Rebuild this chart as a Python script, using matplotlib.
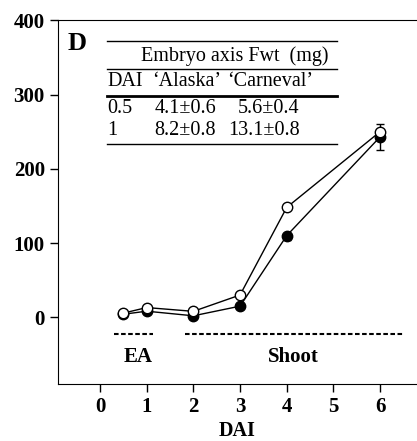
import matplotlib.pyplot as plt

plt.rcParams['font.family'] = ['Liberation Serif', 'DejaVu Serif']

# Data.
dai = [0.5, 1, 2, 3, 4, 6]
alaska = [4.1, 8.2, 2, 15, 110, 243]
alaska_err = [0.6, 0.8, 1, 2, 6, 18]
carneval = [5.6, 13.1, 8, 30, 148, 250]
carneval_err = [0.4, 0.8, 1, 2, 3, 10]

table_rows = [['0.5', '4.1±0.6', '5.6±0.4'],
              ['1', '8.2±0.8', '13.1±0.8']]

fig = plt.figure(figsize=(4.17, 4.41), dpi=100)
ax = fig.add_axes([0.139, 0.129, 0.861, 0.825])

# Error bars only drawn on one side, like the original.
ax.errorbar(dai, alaska, yerr=[alaska_err, [0] * len(dai)], fmt='-o', color='black',
            mfc='black', mec='black', ms=7.5, lw=1, capsize=3, elinewidth=1, zorder=3)
ax.errorbar(dai, carneval, yerr=[[0] * len(dai), carneval_err], fmt='-o', color='black',
            mfc='white', mec='black', ms=7.5, lw=1, capsize=3, elinewidth=1, zorder=4)

# Stage bars.
ax.plot([0.3, 1.14], [-23, -23], ls=(0, (2.2, 1.2)), color='black', lw=1.5)
ax.plot([1.82, 6.5], [-23, -23], ls=(0, (2.2, 1.2)), color='black', lw=1.5)
ax.text(0.81, -53, 'EA', ha='center', va='center', fontsize=15, fontweight='bold')
ax.text(4.14, -53, 'Shoot', ha='center', va='center', fontsize=15, fontweight='bold')

ax.text(-0.49, 369, 'D', ha='center', va='center', fontsize=19, fontweight='bold')

# Inset table.
fs = 14.5
x0, x1 = 0.15, 5.07
for y, w in [(372, 1), (334, 1), (298, 2), (233, 1)]:
    ax.plot([x0, x1], [y, y], color='black', lw=w)
ax.text(2.88, 352, 'Embryo axis Fwt  (mg)', ha='center', va='center', fontsize=fs)
ax.text(x0, 318, 'DAI', ha='left', va='center', fontsize=fs)
ax.text(1.11, 318, '\u2018Alaska\u2019', ha='left', va='center', fontsize=fs)
ax.text(4.56, 318, '\u2018Carneval\u2019', ha='right', va='center', fontsize=fs)
for row, y in zip(table_rows, [281, 251]):
    ax.text(x0, y, row[0], ha='left', va='center', fontsize=fs)
    ax.text(1.16, y, row[1], ha='left', va='center', fontsize=fs)
    ax.text(4.28, y, row[2], ha='right', va='center', fontsize=fs)

ax.set_xlim(-0.9, 6.79)
ax.set_ylim(-90, 400)
ax.set_xticks(range(0, 7))
ax.set_yticks([0, 100, 200, 300, 400])
ax.spines['right'].set_visible(False)
ax.tick_params(direction='out', length=6, width=1)
for lab in ax.get_xticklabels() + ax.get_yticklabels():
    lab.set_fontweight('bold')
    lab.set_fontsize(15)
ax.set_xlabel('DAI', fontsize=14.5, fontweight='bold', labelpad=3)

fig.savefig('out.png', dpi=100)
